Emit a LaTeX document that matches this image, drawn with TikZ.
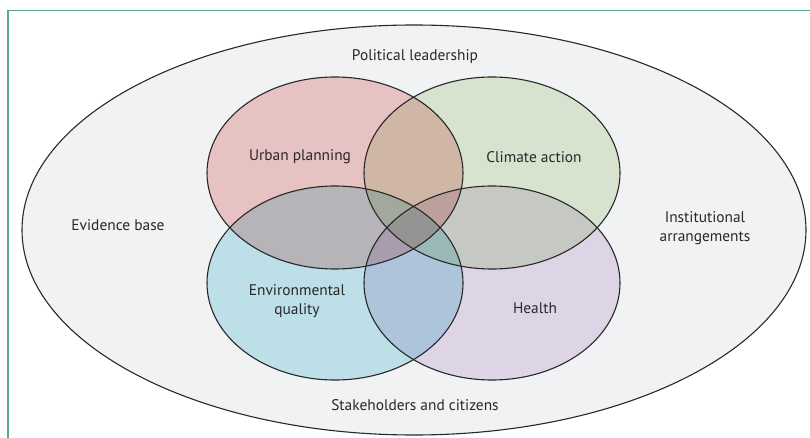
\documentclass[tikz,border=0pt]{standalone}
\usepackage{fontspec}
\setmainfont{PT Sans}
\definecolor{framegreen}{RGB}{88,168,128}
\definecolor{outerbg}{RGB}{241,242,244}
\definecolor{lineclr}{RGB}{40,40,40}
\definecolor{txtclr}{RGB}{40,40,40}
\definecolor{urbanfill}{RGB}{245,205,204}
\definecolor{climatefill}{RGB}{229,240,217}
\definecolor{envfill}{RGB}{201,236,242}
\definecolor{healthfill}{RGB}{234,225,241}
\begin{document}
\begin{tikzpicture}[x=1pt,y=-1pt,
  frameline/.style={draw=framegreen,line width=1.5pt},
  vennline/.style={draw=lineclr,line width=1.1pt},
  vennfill/.style={blend mode=multiply},
  lbl/.style={font=\fontsize{15.4}{19.5}\selectfont,text=txtclr,align=center,inner sep=0pt}]
\useasboundingbox (0,0) rectangle (810,438);
% frame
\coordinate (fbl) at (8,438);
\coordinate (ftl) at (8,10.7);
\coordinate (ftr) at (810,10.7);
\draw[frameline] (fbl) -- (ftl) -- (ftr);
% outer ellipse
\fill[outerbg] (414,230) ellipse [x radius=392,y radius=205];
\draw[vennline] (414,230) ellipse [x radius=392,y radius=205];
% inner ellipses fills
\fill[urbanfill,vennfill] (335,173) ellipse [x radius=128,y radius=96];
\fill[climatefill,vennfill] (492,173) ellipse [x radius=128,y radius=96];
\fill[envfill,vennfill] (335,283) ellipse [x radius=128,y radius=97];
\fill[healthfill,vennfill] (492,283) ellipse [x radius=128,y radius=97];
% outlines
\draw[vennline] (335,173) ellipse [x radius=128,y radius=96];
\draw[vennline] (492,173) ellipse [x radius=128,y radius=96];
\draw[vennline] (335,283) ellipse [x radius=128,y radius=97];
\draw[vennline] (492,283) ellipse [x radius=128,y radius=97];
% labels
\node[lbl] (pol) at (415,57) {Political leadership};
\node[lbl] (urb) at (300,157) {Urban planning};
\node[lbl] (cli) at (534,157) {Climate action};
\node[lbl] (evi) at (118,225) {Evidence base};
\node[lbl] (ins) at (705,228) {Institutional\\arrangements};
\node[lbl] (env) at (297,301) {Environmental\\quality};
\node[lbl] (hea) at (535,308) {Health};
\node[lbl] (sta) at (415,405) {Stakeholders and citizens};
\end{tikzpicture}
\end{document}
